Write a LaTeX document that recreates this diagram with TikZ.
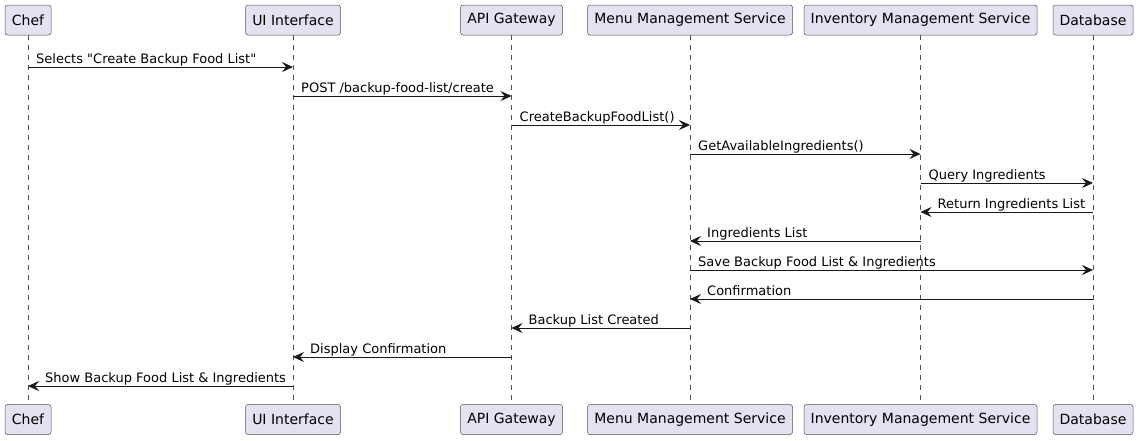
\documentclass[tikz,border=0pt]{standalone}
\usepackage{fontspec}
\setmainfont{DejaVu Sans}[Ligatures=TeXOff]
\usetikzlibrary{arrows.meta}
\definecolor{boxfill}{HTML}{E2E2F0}
\definecolor{ink}{HTML}{181818}
\begin{document}
\begin{tikzpicture}[x=1pt,y=-1pt,
 part/.style={draw=ink!75, fill=boxfill, rounded corners=2.5pt, line width=0.5pt, minimum height=30pt, inner sep=0pt, font=\fontsize{14}{16}\selectfont, text=black},
 life/.style={draw=ink!75, line width=0.5pt, dash pattern=on 5pt off 5pt},
 msg/.style={draw=ink, line width=0.8pt, -{Stealth[length=11pt,width=10pt,inset=4pt]}},
 lbl/.style={font=\fontsize{13}{15}\selectfont, anchor=base west, inner sep=0pt, text=black}]
\useasboundingbox (0,0) rectangle (1138,440);
% participants (top)
\node[part, minimum width=46pt]  (tChef) at (28,20)    {Chef};
\node[part, minimum width=95pt]  (tUI)   at (293,20)   {UI Interface};
\node[part, minimum width=102pt] (tAPI)  at (511.5,20) {API Gateway};
\node[part, minimum width=205pt] (tMenu) at (690,20)   {Menu Management Service};
\node[part, minimum width=233pt] (tInv)  at (920.5,20) {Inventory Management Service};
\node[part, minimum width=80pt]  (tDB)   at (1093,20)  {Database};
% participants (bottom)
\node[part, minimum width=46pt]  (bChef) at (28,419.5)    {Chef};
\node[part, minimum width=95pt]  (bUI)   at (293,419.5)   {UI Interface};
\node[part, minimum width=102pt] (bAPI)  at (511.5,419.5) {API Gateway};
\node[part, minimum width=205pt] (bMenu) at (690,419.5)   {Menu Management Service};
\node[part, minimum width=233pt] (bInv)  at (920.5,419.5) {Inventory Management Service};
\node[part, minimum width=80pt]  (bDB)   at (1093,419.5)  {Database};
% lifelines
\draw[life] (tChef.south) -- (bChef.north);
\draw[life] (tUI.south) -- (bUI.north);
\draw[life] (tAPI.south) -- (bAPI.north);
\draw[life] (tMenu.south) -- (bMenu.north);
\draw[life] (tInv.south) -- (bInv.north);
\draw[life] (tDB.south) -- (bDB.north);
% message rows
\coordinate (r1) at (0,67);
\coordinate (r2) at (0,96);
\coordinate (r3) at (0,125);
\coordinate (r4) at (0,154);
\coordinate (r5) at (0,183);
\coordinate (r6) at (0,212);
\coordinate (r7) at (0,241);
\coordinate (r8) at (0,270);
\coordinate (r9) at (0,299);
\coordinate (r10) at (0,328);
\coordinate (r11) at (0,357);
\coordinate (r12) at (0,386);
% messages
\draw[msg] (tChef |- r1) -- (tUI |- r1);
\node[lbl] (l1) at ([xshift=8pt,yshift=4pt]tChef |- r1) {Selects "Create Backup Food List"};
\draw[msg] (tUI |- r2) -- (tAPI |- r2);
\node[lbl] (l2) at ([xshift=8pt,yshift=4pt]tUI |- r2) {POST /backup-food-list/create};
\draw[msg] (tAPI |- r3) -- (tMenu |- r3);
\node[lbl] (l3) at ([xshift=8pt,yshift=4pt]tAPI |- r3) {CreateBackupFoodList()};
\draw[msg] (tMenu |- r4) -- (tInv |- r4);
\node[lbl] (l4) at ([xshift=8pt,yshift=4pt]tMenu |- r4) {GetAvailableIngredients()};
\draw[msg] (tInv |- r5) -- (tDB |- r5);
\node[lbl] (l5) at ([xshift=8pt,yshift=4pt]tInv |- r5) {Query Ingredients};
\draw[msg] (tDB |- r6) -- (tInv |- r6);
\node[lbl] (l6) at ([xshift=17pt,yshift=4pt]tInv |- r6) {Return Ingredients List};
\draw[msg] (tInv |- r7) -- (tMenu |- r7);
\node[lbl] (l7) at ([xshift=17pt,yshift=4pt]tMenu |- r7) {Ingredients List};
\draw[msg] (tMenu |- r8) -- (tDB |- r8);
\node[lbl] (l8) at ([xshift=8pt,yshift=4pt]tMenu |- r8) {Save Backup Food List \& Ingredients};
\draw[msg] (tDB |- r9) -- (tMenu |- r9);
\node[lbl] (l9) at ([xshift=17pt,yshift=4pt]tMenu |- r9) {Confirmation};
\draw[msg] (tMenu |- r10) -- (tAPI |- r10);
\node[lbl] (l10) at ([xshift=17pt,yshift=4pt]tAPI |- r10) {Backup List Created};
\draw[msg] (tAPI |- r11) -- (tUI |- r11);
\node[lbl] (l11) at ([xshift=17pt,yshift=4pt]tUI |- r11) {Display Confirmation};
\draw[msg] (tUI |- r12) -- (tChef |- r12);
\node[lbl] (l12) at ([xshift=17pt,yshift=4pt]tChef |- r12) {Show Backup Food List \& Ingredients};
\end{tikzpicture}
\end{document}
